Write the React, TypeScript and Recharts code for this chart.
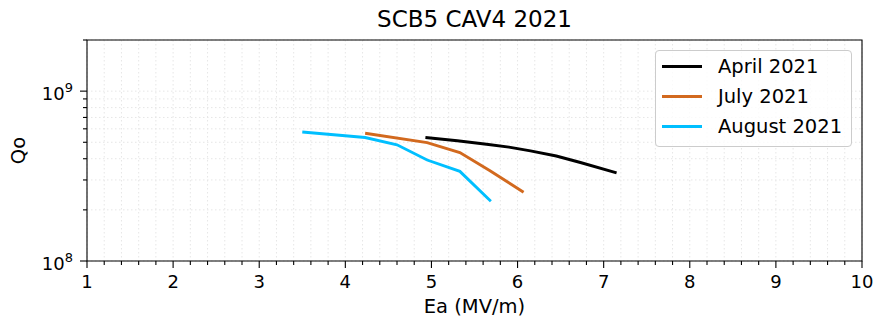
import React from 'react';
import { LineChart, Line, XAxis, YAxis, CartesianGrid, Legend, ReferenceArea } from 'recharts';

// values
const aprilEa = [4.93, 5.3, 5.64, 5.9, 6.15, 6.45, 6.73, 7.15];
const aprilQo = [5.33e8, 5.1e8, 4.87e8, 4.68e8, 4.45e8, 4.15e8, 3.8e8, 3.3e8];

const julyEa = [4.23, 4.95, 5.33, 5.68, 6.07];
const julyQo = [5.65e8, 4.98e8, 4.35e8, 3.4e8, 2.54e8];

const augustEa = [3.5, 4.23, 4.6, 4.95, 5.33, 5.69];
const augustQo = [5.75e8, 5.33e8, 4.83e8, 3.93e8, 3.37e8, 2.25e8];

const seriesNames = ['April 2021', 'July 2021', 'August 2021'];
const seriesColors = ['#000000', '#D2691E', '#00BFFF'];

const xTicks = Array.from({ length: 46 }, (_, i) => Math.round((1 + i * 0.2) * 10) / 10);
const yTicks = [1e8, 2e8, 3e8, 4e8, 5e8, 6e8, 7e8, 8e8, 9e8, 1e9, 2e9];

const toRows = (ea: number[], qo: number[]) => ea.map((e, i) => ({ ea: e, qo: qo[i] }));
const data = [toRows(aprilEa, aprilQo), toRows(julyEa, julyQo), toRows(augustEa, augustQo)];

const FONT = '"DejaVu Sans", sans-serif';

const XTick = (props: any) => {
    const { x, y, payload } = props;
    const v = payload.value;
    const major = Math.abs(v - Math.round(v)) < 1e-6;
    return (
        <g>
            <line x1={x} x2={x} y1={y} y2={y + (major ? 7 : 4)} stroke="#000" strokeWidth={1.1} />
            {major && (
                <text x={x} y={y + 27} textAnchor="middle" fontSize={18} fill="#000" fontFamily={FONT}>
                    {Math.round(v)}
                </text>
            )}
        </g>
    );
};

const YTick = (props: any) => {
    const { x, y, payload } = props;
    const v = payload.value;
    const exp = Math.log10(v);
    const major = Math.abs(exp - Math.round(exp)) < 1e-6 && v < 1.5e9;
    return (
        <g>
            <line x1={x} x2={x - (major ? 7 : 4)} y1={y} y2={y} stroke="#000" strokeWidth={1.1} />
            {major && (
                <text x={x - 14} y={y + 9} textAnchor="end" fontSize={18} fill="#000" fontFamily={FONT}>
                    10
                    <tspan fontSize={13} dy={-8}>{Math.round(exp)}</tspan>
                </text>
            )}
        </g>
    );
};

const LegendBox = () => (
    <div
        style={{
            border: '1px solid #cccccc',
            borderRadius: 4,
            background: 'rgba(255,255,255,0.8)',
            width: 195,
            paddingBottom: 5,
            fontFamily: FONT,
            fontSize: 19.5,
            color: '#000',
        }}
    >
        {seriesNames.map((name, i) => (
            <div key={name} style={{ height: 30, display: 'flex', alignItems: 'center' }}>
                <div style={{ width: 40, height: 3, background: seriesColors[i], marginLeft: 6, marginRight: 16 }} />
                <span>{name}</span>
            </div>
        ))}
    </div>
);

const App: React.FC = () => {
    return (
        <div style={{ position: 'absolute', left: 0, top: 0, width: 876, height: 322, background: '#fff', fontFamily: FONT }}>
            <div
                style={{
                    position: 'absolute',
                    left: 87,
                    top: 8,
                    width: 775,
                    textAlign: 'center',
                    fontSize: 23,
                    lineHeight: '23px',
                    color: '#000',
                    zIndex: 2,
                }}
            >
                SCB5 CAV4 2021
            </div>
            <LineChart width={876} height={322} margin={{ top: 40, right: 14, left: 86, bottom: 60 }}>
                <CartesianGrid stroke="#e6e6e6" strokeDasharray="1.5 2.5" />
                <XAxis
                    type="number"
                    dataKey="ea"
                    domain={[1, 10]}
                    ticks={xTicks}
                    interval={0}
                    height={1}
                    tickSize={0}
                    tickMargin={0}
                    tickLine={false}
                    axisLine={false}
                    tick={(p: any) => <XTick {...p} />}
                    allowDataOverflow
                    label={{
                        content: (p: any) => {
                            const vb = p.viewBox;
                            return (
                                <text x={vb.x + vb.width / 2} y={vb.y + 52} textAnchor="middle" fontSize={19.5} fill="#000" fontFamily={FONT}>
                                    Ea (MV/m)
                                </text>
                            );
                        },
                    }}
                />
                <YAxis
                    type="number"
                    dataKey="qo"
                    scale="log"
                    domain={[1e8, 2e9]}
                    ticks={yTicks}
                    interval={0}
                    width={1}
                    tickSize={0}
                    tickMargin={0}
                    tickLine={false}
                    axisLine={false}
                    tick={(p: any) => <YTick {...p} />}
                    allowDataOverflow
                    label={{
                        content: (p: any) => {
                            const vb = p.viewBox;
                            const cx = vb.x - 68;
                            const cy = vb.y + vb.height / 2;
                            return (
                                <text x={cx} y={cy} transform={`rotate(-90 ${cx} ${cy})`} textAnchor="middle" dominantBaseline="central" fontSize={19.5} fill="#000" fontFamily={FONT}>
                                    Qo
                                </text>
                            );
                        },
                    }}
                />
                <ReferenceArea x1={1} x2={10} y1={1e8} y2={2e9} fill="none" stroke="#000" strokeWidth={1.1} />
                {data.map((rows, i) => (
                    <Line
                        key={seriesNames[i]}
                        data={rows}
                        dataKey="qo"
                        name={seriesNames[i]}
                        type="linear"
                        stroke={seriesColors[i]}
                        strokeWidth={2.9}
                        dot={false}
                        isAnimationActive={false}
                    />
                ))}
                <Legend
                    layout="vertical"
                    align="center"
                    verticalAlign="middle"
                    content={<LegendBox />}
                    wrapperStyle={{ left: 655, top: 50, width: 'auto' }}
                />
            </LineChart>
        </div>
    );
};

export default App;
